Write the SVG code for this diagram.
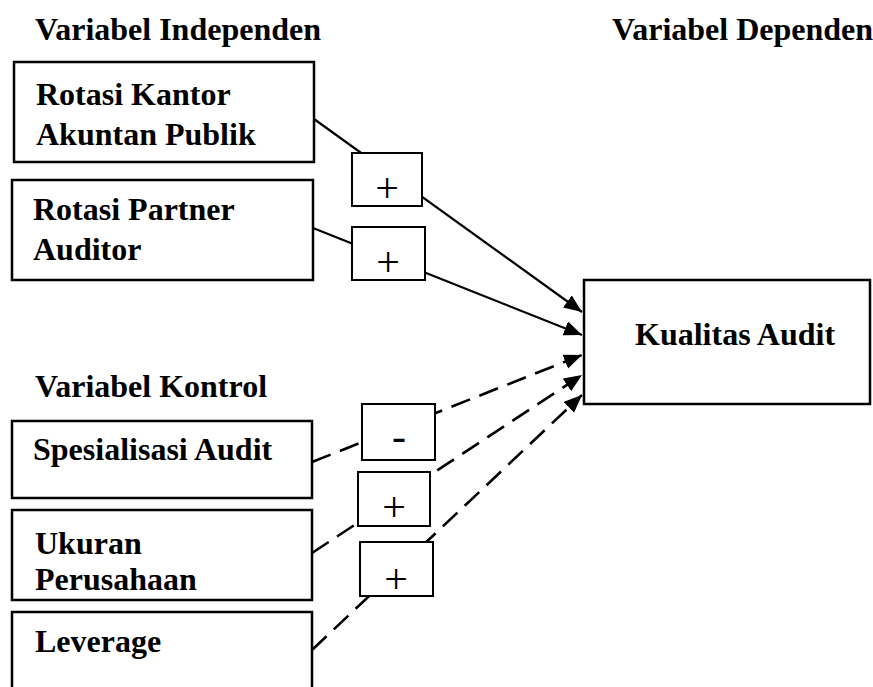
<svg xmlns="http://www.w3.org/2000/svg" width="873" height="687" viewBox="0 0 873 687">
<style>
.box{fill:#fff;stroke:#000;stroke-width:2.5}
.sbox{fill:#fff;stroke:#000;stroke-width:2}
.t{font-family:"Liberation Serif","Times New Roman",serif;font-weight:bold;font-size:32px;fill:#000}
.s{font-family:"Liberation Serif","Times New Roman",serif;font-size:42px;fill:#000;text-anchor:middle}
.ln{stroke:#000;stroke-width:2.2;fill:none;marker-end:url(#arr)}
.dash{stroke-dasharray:20 10;stroke-width:2.6}
</style>
<defs>
<marker id="arr" markerUnits="userSpaceOnUse" markerWidth="20" markerHeight="16" refX="18" refY="7.5" orient="auto">
<path d="M0,0 L18,7.5 L0,15 z" fill="#000"/>
</marker>
</defs>
<rect width="873" height="687" fill="#fff"/>
<g id="headers">
<text class="t" x="35" y="40">Variabel Independen</text>
<text class="t" x="612" y="40">Variabel Dependen</text>
<text class="t" x="35" y="397">Variabel Kontrol</text>
</g>
<g id="connectors">
<line class="ln" x1="314" y1="119" x2="582" y2="312"/>
<line class="ln" x1="313" y1="228" x2="582" y2="335"/>
<line class="ln dash" x1="312" y1="462" x2="582" y2="355"/>
<line class="ln dash" x1="312" y1="553" x2="582" y2="375"/>
<line class="ln dash" x1="312" y1="650" x2="582" y2="395"/>
</g>
<g id="rkap">
<rect class="box" x="14" y="62" width="300" height="100"/>
<text class="t" x="36" y="105">Rotasi Kantor</text>
<text class="t" x="36" y="145">Akuntan Publik</text>
</g>
<g id="rpa">
<rect class="box" x="12" y="180" width="301" height="100"/>
<text class="t" x="33" y="220">Rotasi Partner</text>
<text class="t" x="33" y="260">Auditor</text>
</g>
<g id="sa">
<rect class="box" x="12" y="421" width="300" height="77"/>
<text class="t" x="33" y="460">Spesialisasi Audit</text>
</g>
<g id="up">
<rect class="box" x="12" y="510" width="300" height="90"/>
<text class="t" x="35" y="554">Ukuran</text>
<text class="t" x="35" y="590">Perusahaan</text>
</g>
<g id="lev">
<rect class="box" x="12" y="612" width="300" height="90"/>
<text class="t" x="35" y="652">Leverage</text>
</g>
<g id="ka">
<rect class="box" x="584" y="280" width="286" height="124"/>
<text class="t" x="635" y="345">Kualitas Audit</text>
</g>
<g id="sign1">
<rect class="sbox" x="352" y="153" width="70" height="53"/>
<text class="s" x="387" y="202">+</text>
</g>
<g id="sign2">
<rect class="sbox" x="352" y="227" width="73" height="53"/>
<text class="s" x="388" y="276">+</text>
</g>
<g id="sign3">
<rect class="sbox" x="362" y="404" width="73" height="56"/>
<text class="s" x="399" y="450">-</text>
</g>
<g id="sign4">
<rect class="sbox" x="358" y="472" width="72" height="54"/>
<text class="s" x="394" y="521">+</text>
</g>
<g id="sign5">
<rect class="sbox" x="360" y="542" width="73" height="54"/>
<text class="s" x="396" y="593">+</text>
</g>
</svg>
